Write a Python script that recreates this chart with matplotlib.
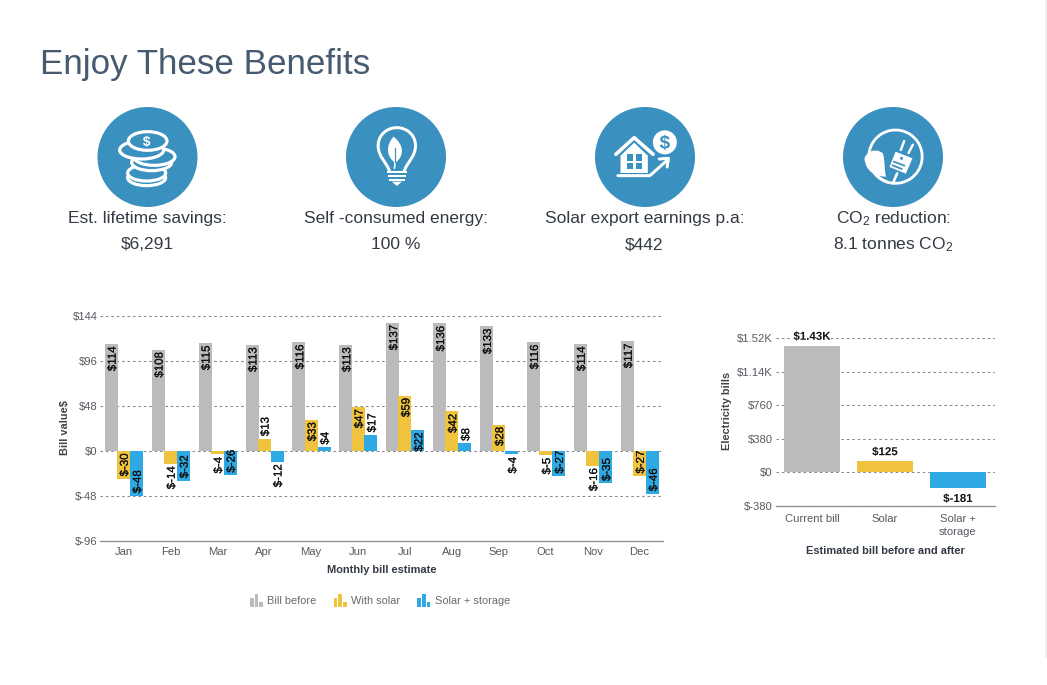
import matplotlib
matplotlib.use("Agg")
import matplotlib.pyplot as plt
from matplotlib.patches import Circle, Ellipse, PathPatch, Rectangle, Patch, Arc
from matplotlib.path import Path
from matplotlib.textpath import TextPath
from matplotlib.font_manager import FontProperties
from matplotlib.transforms import Affine2D
from matplotlib.legend_handler import HandlerBase
import matplotlib.patheffects as pe

months = ["Jan", "Feb", "Mar", "Apr", "May", "Jun", "Jul", "Aug", "Sep", "Oct", "Nov", "Dec"]
bill_before = [114, 108, 115, 113, 116, 113, 137, 136, 133, 116, 114, 117]
with_solar = [-30, -14, -4, 13, 33, 47, 59, 42, 28, -5, -16, -27]
solar_storage = [-48, -32, -26, -12, 4, 17, 22, 8, -4, -27, -35, -46]
monthly_ticks = [-96, -48, 0, 48, 96, 144]

totals_cats = ["Current bill", "Solar", "Solar +\nstorage"]
totals_vals = [1430, 125, -181]
totals_labels = ["$1.43K", "$125", "$-181"]
totals_ticks = [-380, 0, 380, 760, 1140, 1520]
totals_ticklabels = ["$-380", "$0", "$380", "$760", "$1.14K", "$1.52K"]

kpi_heads = ["Est. lifetime savings:", "Self -consumed energy:", "Solar export earnings p.a:", "CO$_2$ reduction:"]
kpi_vals = ["$6,291", "100 %", "$442", "8.1 tonnes CO$_2$"]

GRAY, YEL, BLU = "#BBBBBB", "#F0C33F", "#2EA9E3"
ICON = "#3A90BE"
W, H = 1047, 685
PX = 0.72

plt.rcParams["font.family"] = ["Liberation Sans", "DejaVu Sans"]
plt.rcParams["mathtext.fontset"] = "custom"
plt.rcParams["mathtext.rm"] = "Liberation Sans"
plt.rcParams["mathtext.default"] = "rm"

fig = plt.figure(figsize=(W / 100, H / 100), dpi=100, facecolor="white")


def axes_px(l, t, r, b):
    return fig.add_axes([l / W, 1 - b / H, (r - l) / W, (b - t) / H])


# page layer in pixel coordinates
pg = fig.add_axes([0, 0, 1, 1], zorder=0)
pg.set_xlim(0, W)
pg.set_ylim(H, 0)
pg.axis("off")
pg.add_patch(Rectangle((1045, 0), 2, 658, fc="#EEEEEE", ec="none"))
pg.text(40, 64, "Enjoy These Benefits", fontsize=35 * PX, color="#465A70", va="center", ha="left")

kpi_x = [147, 396, 644.5, 893]
for x, a, b in zip(kpi_x, kpi_heads, kpi_vals):
    pg.text(x, 218.5, a, fontsize=17.4 * PX, color="#333A45", ha="center", va="center")
    pg.text(x, 244.5, b, fontsize=17.4 * PX, color="#333A45", ha="center", va="center")


# icons ------------------------------------------------------------------
def glyph(s, cx, cy, size, color):
    tp = TextPath((0, 0), s, size=size, prop=FontProperties(family="Liberation Sans", weight="bold"))
    bb = tp.get_extents()
    tr = Affine2D().translate(-(bb.x0 + bb.x1) / 2, -(bb.y0 + bb.y1) / 2).scale(1, -1).translate(cx, cy)
    pg.add_patch(PathPatch(tp, fc=color, ec="none", transform=tr + pg.transData, zorder=6))


def icon_base(cx):
    pg.add_patch(Circle((cx, 157), 50, fc=ICON, ec="none", zorder=2))
    return cx - 52.5, 157 - 52


def conv(o, pts):
    return [(o[0] + x / 3, o[1] + y / 3) for x, y in pts]


def stroke(o, pts, lw=2.2, color="white", z=4, codes=None):
    pg.add_patch(PathPatch(Path(conv(o, pts), codes), fc="none", ec=color, lw=lw * PX, zorder=z,
                           capstyle="round", joinstyle="round"))


def fill(o, pts, color="white", z=4, codes=None):
    pg.add_patch(PathPatch(Path(conv(o, pts), codes), fc=color, ec="none", zorder=z))


M, C, L = Path.MOVETO, Path.CURVE4, Path.LINETO

# coins
o = icon_base(147.5)
for (x, y, rx, ry, z) in [(155, 218, 57, 24, 3), (155, 204, 57, 24, 3.1), (170, 172, 60, 25, 3.2),
                          (178, 155, 62, 26, 3.3), (140, 135, 66, 27, 3.4), (158, 108, 58, 28, 3.5)]:
    c = conv(o, [(x, y)])[0]
    pg.add_patch(Ellipse(c, 2 * rx / 3, 2 * ry / 3, fc=ICON, ec="white", lw=3.2 * PX, zorder=z))
g = conv(o, [(155, 109)])[0]
glyph("$", g[0], g[1], 14, "white")

# bulb
o = icon_base(396)
stroke(o, [(138, 198), (128, 170), (104, 155), (104, 122), (104, 90), (130, 68), (160, 68),
           (190, 68), (216, 90), (216, 122), (216, 155), (192, 170), (182, 198)], lw=3,
       codes=[M, C, C, C, C, C, C, C, C, C, C, C, C])
for x0, x1, y0, y1 in [(130, 190, 197, 205), (133, 187, 209, 217), (137, 183, 221, 229)]:
    fill(o, [(x0, y0), (x1, y0), (x1, y1), (x0, y1), (x0, y0)])
fill(o, [(145, 230), (175, 230), (160, 243), (145, 230)])
fill(o, [(150, 95), (128, 120), (126, 152), (155, 174), (184, 152), (182, 120), (150, 95)],
     codes=[M, C, C, C, C, C, C])
stroke(o, [(155, 130), (155, 172)], lw=1.2, color=ICON, z=5)
stroke(o, [(155, 165), (153, 190)], lw=1.6)

# house
o = icon_base(645)
fill(o, [(84, 152), (125, 113), (166, 152), (166, 204), (84, 204), (84, 152)])
stroke(o, [(70, 148), (125, 98), (182, 148)], lw=3.6)
for x0, x1, y0, y1 in [(104, 121, 148, 168), (130, 148, 148, 168), (104, 121, 174, 192), (130, 148, 174, 192)]:
    fill(o, [(x0, y0), (x1, y0), (x1, y1), (x0, y1), (x0, y0)], color=ICON, z=5)
stroke(o, [(76, 212), (172, 212), (226, 164)], lw=3)
stroke(o, [(200, 162), (228, 160), (224, 186)], lw=3)
c = conv(o, [(217, 112)])[0]
pg.add_patch(Circle(c, 12, fc="white", ec="none", zorder=4))
glyph("$", c[0], c[1], 19, ICON)

# plug + leaf
o = icon_base(893)
c = conv(o, [(165, 155)])[0]
pg.add_patch(Arc(c, 160 / 3, 160 / 3, theta1=-255, theta2=100, ec="white", lw=2.8 * PX, zorder=4))
pg.add_patch(Arc(c, 160 / 3, 160 / 3, theta1=100, theta2=185, ec="white", lw=2.8 * PX, zorder=4))
fill(o, [(72, 160), (80, 135), (110, 130), (127, 145), (135, 170), (130, 195), (137, 215),
         (105, 215), (75, 200), (72, 160)], codes=[M, C, C, C, C, C, C, C, C, C])
fill(o, [(165, 140), (216, 160), (196, 206), (147, 186), (165, 140)])
stroke(o, [(160, 170), (192, 182)], lw=1.8, color=ICON, z=5)
stroke(o, [(156, 181), (184, 192)], lw=1.8, color=ICON, z=5)
c2 = conv(o, [(183, 160)])[0]
pg.add_patch(Circle(c2, 1.5, fc=ICON, ec="none", zorder=5))
stroke(o, [(181, 135), (191, 108)], lw=2.4)
stroke(o, [(204, 144), (217, 119)], lw=2.4)
stroke(o, [(170, 205), (157, 235)], lw=2.6)


# chart styling ----------------------------------------------------------
def style_axes(ax, ticks):
    ax.set_facecolor("none")
    for s in ax.spines.values():
        s.set_visible(False)
    ax.set_yticks(ticks)
    ax.grid(axis="y", color="#888888", lw=0.75, ls=(0, (2.4, 2.8)))
    ax.grid(axis="x", visible=False)
    ax.set_axisbelow(True)
    ax.tick_params(axis="both", length=0, labelsize=11.3 * PX, labelcolor="#555A60")
    ax.spines["bottom"].set_visible(True)
    ax.spines["bottom"].set_color("#8C8C8C")
    ax.spines["bottom"].set_linewidth(0.9)


# monthly chart ----------------------------------------------------------
ax = axes_px(100, 316, 663, 540.5)
ax.set_zorder(2)
ax.set_xlim(-0.5, 11.5)
ax.set_ylim(-96, 144)
style_axes(ax, monthly_ticks)
ax.set_yticklabels([f"${v}" for v in monthly_ticks])
ax.set_xticks(range(12))
ax.set_xticklabels(months)
ax.tick_params(axis="x", pad=5)
ax.tick_params(axis="y", pad=2)
ax.set_xlabel("Monthly bill estimate", fontsize=11 * PX, fontweight="bold", color="#333A45", labelpad=5.5)
ax.set_ylabel("Bill value$", fontsize=11 * PX, fontweight="bold", color="#444", labelpad=1.5, y=0.505)

bw = 0.277
series = [("Bill before", bill_before, GRAY, -0.26), ("With solar", with_solar, YEL, 0),
          ("Solar + storage", solar_storage, BLU, 0.275)]
thick = [pe.withStroke(linewidth=0.12, foreground="#111111")]
for name, vals, col, d in series:
    xs = [i + d for i in range(12)]
    ax.bar(xs, vals, width=bw, color=col, zorder=2, label=name)
    for x, v in zip(xs, vals):
        inside = abs(v) >= 20
        sign = 1 if v >= 0 else -1
        # inside-end labels for tall bars, outside-end labels for short ones
        yy = v - sign * 2.5 if inside else v + sign * 2.5
        va = ("top" if v >= 0 else "bottom") if inside else ("bottom" if v >= 0 else "top")
        ax.annotate(f"${v}", (x, yy), xytext=(1.0, 0), textcoords="offset points", rotation=90, ha="center", va=va,
                    fontsize=11.5 * PX, color="#111111", zorder=3, path_effects=thick)


class BarsHandler(HandlerBase):
    def create_artists(self, legend, orig, xd, yd, width, height, fontsize, trans):
        c = orig.get_facecolor()
        out = []
        for k, f in enumerate([0.65, 1.0, 0.32]):
            h = 13 * PX * f
            out.append(Rectangle((xd * -1 + k * 4.6 * PX, -yd + (height - 13 * PX) / 2), 3.6 * PX, h,
                                 fc=c, ec="none", transform=trans))
        return out


hs = [Patch(facecolor=GRAY), Patch(facecolor=YEL), Patch(facecolor=BLU)]
fig.legend(hs, [s[0] for s in series], loc="center", bbox_to_anchor=(380 / W, 1 - 600.5 / H), ncol=3, frameon=False,
           fontsize=11 * PX, labelcolor="#666A70", handler_map={Patch: BarsHandler()}, handlelength=1.3,
           handletextpad=0.28, columnspacing=1.56, handleheight=1.0)

# totals chart -----------------------------------------------------------
ax2 = axes_px(775.5, 338, 994.5, 506)
ax2.set_zorder(2)
ax2.set_xlim(-0.5, 2.5)
ax2.set_ylim(-380, 1520)
style_axes(ax2, totals_ticks)
ax2.set_yticklabels(totals_ticklabels)
ax2.set_xticks(range(3))
ax2.set_xticklabels(totals_cats, linespacing=1.3)
ax2.tick_params(axis="x", pad=6)
ax2.tick_params(axis="y", pad=2)
ax2.bar(range(3), totals_vals, width=0.76, color=[GRAY, YEL, BLU], zorder=2)
for i, (v, s) in enumerate(zip(totals_vals, totals_labels)):
    ax2.annotate(s, (i, v), xytext=(0, 3 if v >= 0 else -4), textcoords="offset points", ha="center",
                 va="bottom" if v >= 0 else "top", fontsize=11.5 * PX, fontweight="bold", color="#111111", zorder=4,
                 path_effects=[pe.withStroke(linewidth=1.5, foreground="white")])
ax2.set_xlabel("Estimated bill before and after", fontsize=11 * PX, fontweight="bold", color="#333A45", labelpad=7)
ax2.set_ylabel("Electricity bills", fontsize=11 * PX, fontweight="bold", color="#444", labelpad=3.4, y=0.565)

fig.savefig("out.png", dpi=100)
